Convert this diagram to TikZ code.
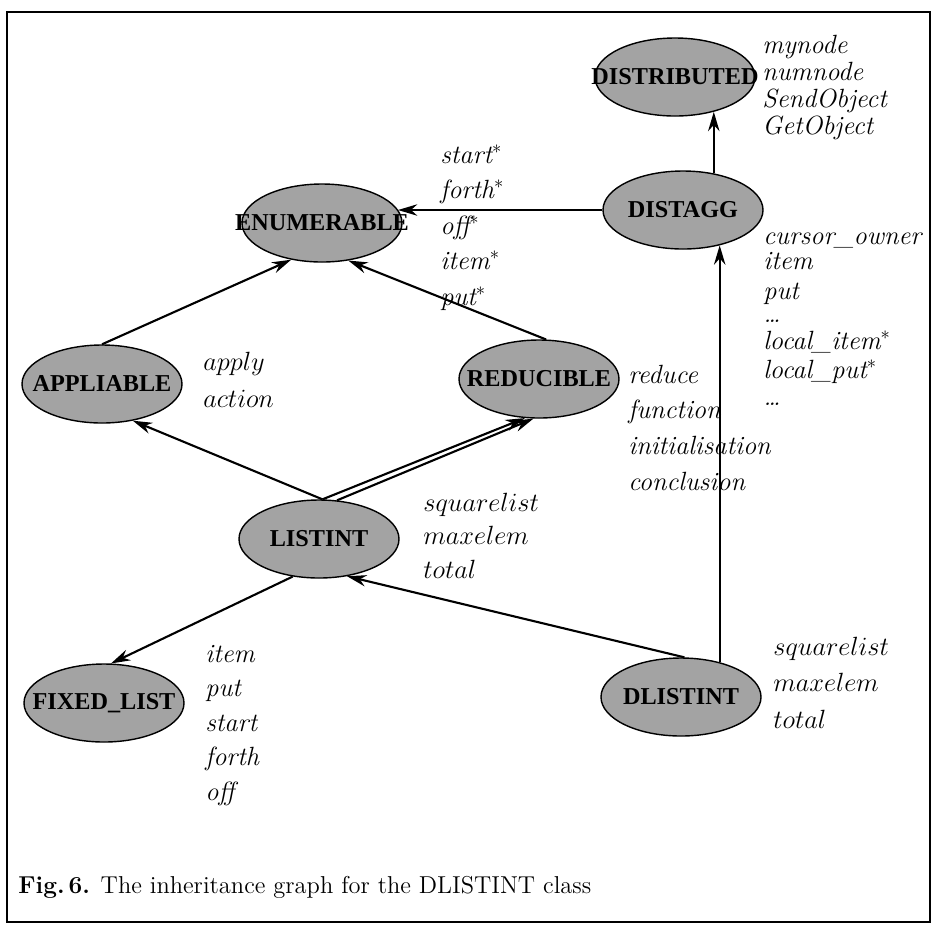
\RequirePackage{fix-cm}
\documentclass[tikz,border=0pt]{standalone}
\usepackage{fontspec}
\newfontfamily\clsfont{Liberation Serif}
\usetikzlibrary{shapes.geometric,arrows.meta}

\newcommand{\cname}[1]{\makebox[0pt]{#1}}

\begin{document}
\begin{tikzpicture}
[
  cls/.style={ellipse,draw,line width=0.8pt,fill=black!36,minimum width=3.2cm,minimum height=1.56cm,inner sep=0pt,font=\clsfont\bfseries\fontsize{13.8}{15}\selectfont},
  arr/.style={line width=1.2pt,-{Stealth[length=11pt,width=6.5pt]}},
  feat/.style={anchor=base west,inner sep=0pt,font=\fontsize{15}{17}\selectfont\itshape},
  capt/.style={anchor=base west,inner sep=0pt,font=\fontsize{13.9}{16}\selectfont}
]

\useasboundingbox (0,0) rectangle (18.76,-18.72);
\draw[line width=1.3pt] (0.14,-0.24) rectangle (18.6,-18.44);

% classes
\node[cls] (distributed) at (13.5,-1.54) {\cname{DISTRIBUTED}};
\node[cls] (distagg) at (13.66,-4.2) {\cname{DISTAGG}};
\node[cls] (enum) at (6.44,-4.46) {\cname{ENUMERABLE}};
\node[cls] (appliable) at (2.04,-7.68) {\cname{APPLIABLE}};
\node[cls] (reducible) at (10.78,-7.58) {\cname{REDUCIBLE}};
\node[cls] (listint) at (6.38,-10.78) {\cname{LISTINT}};
\node[cls] (fixedlist) at (2.08,-14.06) {\cname{FIXED\_LIST}};
\node[cls] (dlistint) at (13.62,-13.94) {\cname{DLISTINT}};

% inheritance
\draw[arr] (distagg.50) -- (distagg.50 |- distributed.318);
\draw[arr] (distagg.west) -- (enum.10 |- distagg.west);
\draw[arr] (appliable.north) -- (enum.230);
\draw[arr] (reducible.80) -- (enum.305);
\draw[arr] (listint.85) -- (appliable.310);
\draw[arr] (listint.85) -- (reducible.250);
\draw[arr] (listint.65) -- (reducible.262);
\draw[arr] (listint.235) -- (fixedlist.80);
\draw[arr] (dlistint.85) -- (listint.307);
\draw[arr] (dlistint.42) -- (dlistint.42 |- distagg.316);

% features
\foreach \t [count=\i] in {mynode,numnode,SendObject,GetObject}
  \node[feat] (distributed-f\i) at (15.24,{-0.52-0.54*\i}) {\t};
\foreach \t/\y [count=\i] in {cursor\_owner/-4.88,item/-5.38,put/-5.98,\ldots/-6.44,local\_item$^*$/-6.98,local\_put$^*$/-7.56,\ldots/-8.1}
  \node[feat] (distagg-f\i) at (15.26,\y) {\t};
\foreach \t [count=\i] in {start$^*$,forth$^*$,off$^*$,item$^*$,put$^*$}
  \node[feat] (enum-f\i) at (8.8,{-2.55-0.71*\i}) {\t};
\foreach \t [count=\i] in {apply,action}
  \node[feat] (appliable-f\i) at (4.06,{-6.66-0.74*\i}) {$\t$};
\foreach \t [count=\i] in {reduce,function,initialisation,conclusion}
  \node[feat] (reducible-f\i) at (12.56,{-6.95-0.713*\i}) {\t};
\foreach \t [count=\i] in {squarelist,maxelem,total}
  \node[feat] (listint-f\i) at (8.46,{-9.55-0.67*\i}) {$\t$};
\foreach \t [count=\i] in {item,put,start,forth,off}
  \node[feat] (fixedlist-f\i) at (4.1,{-12.55-0.69*\i}) {\t};
\foreach \t [count=\i] in {squarelist,maxelem,total}
  \node[feat] (dlistint-f\i) at (15.46,{-12.37-0.73*\i}) {$\t$};

\node[capt] (caption) at (0.36,-17.86) {\textbf{Fig.\,6.} The inheritance graph for the DLISTINT class};

\end{tikzpicture}
\end{document}
